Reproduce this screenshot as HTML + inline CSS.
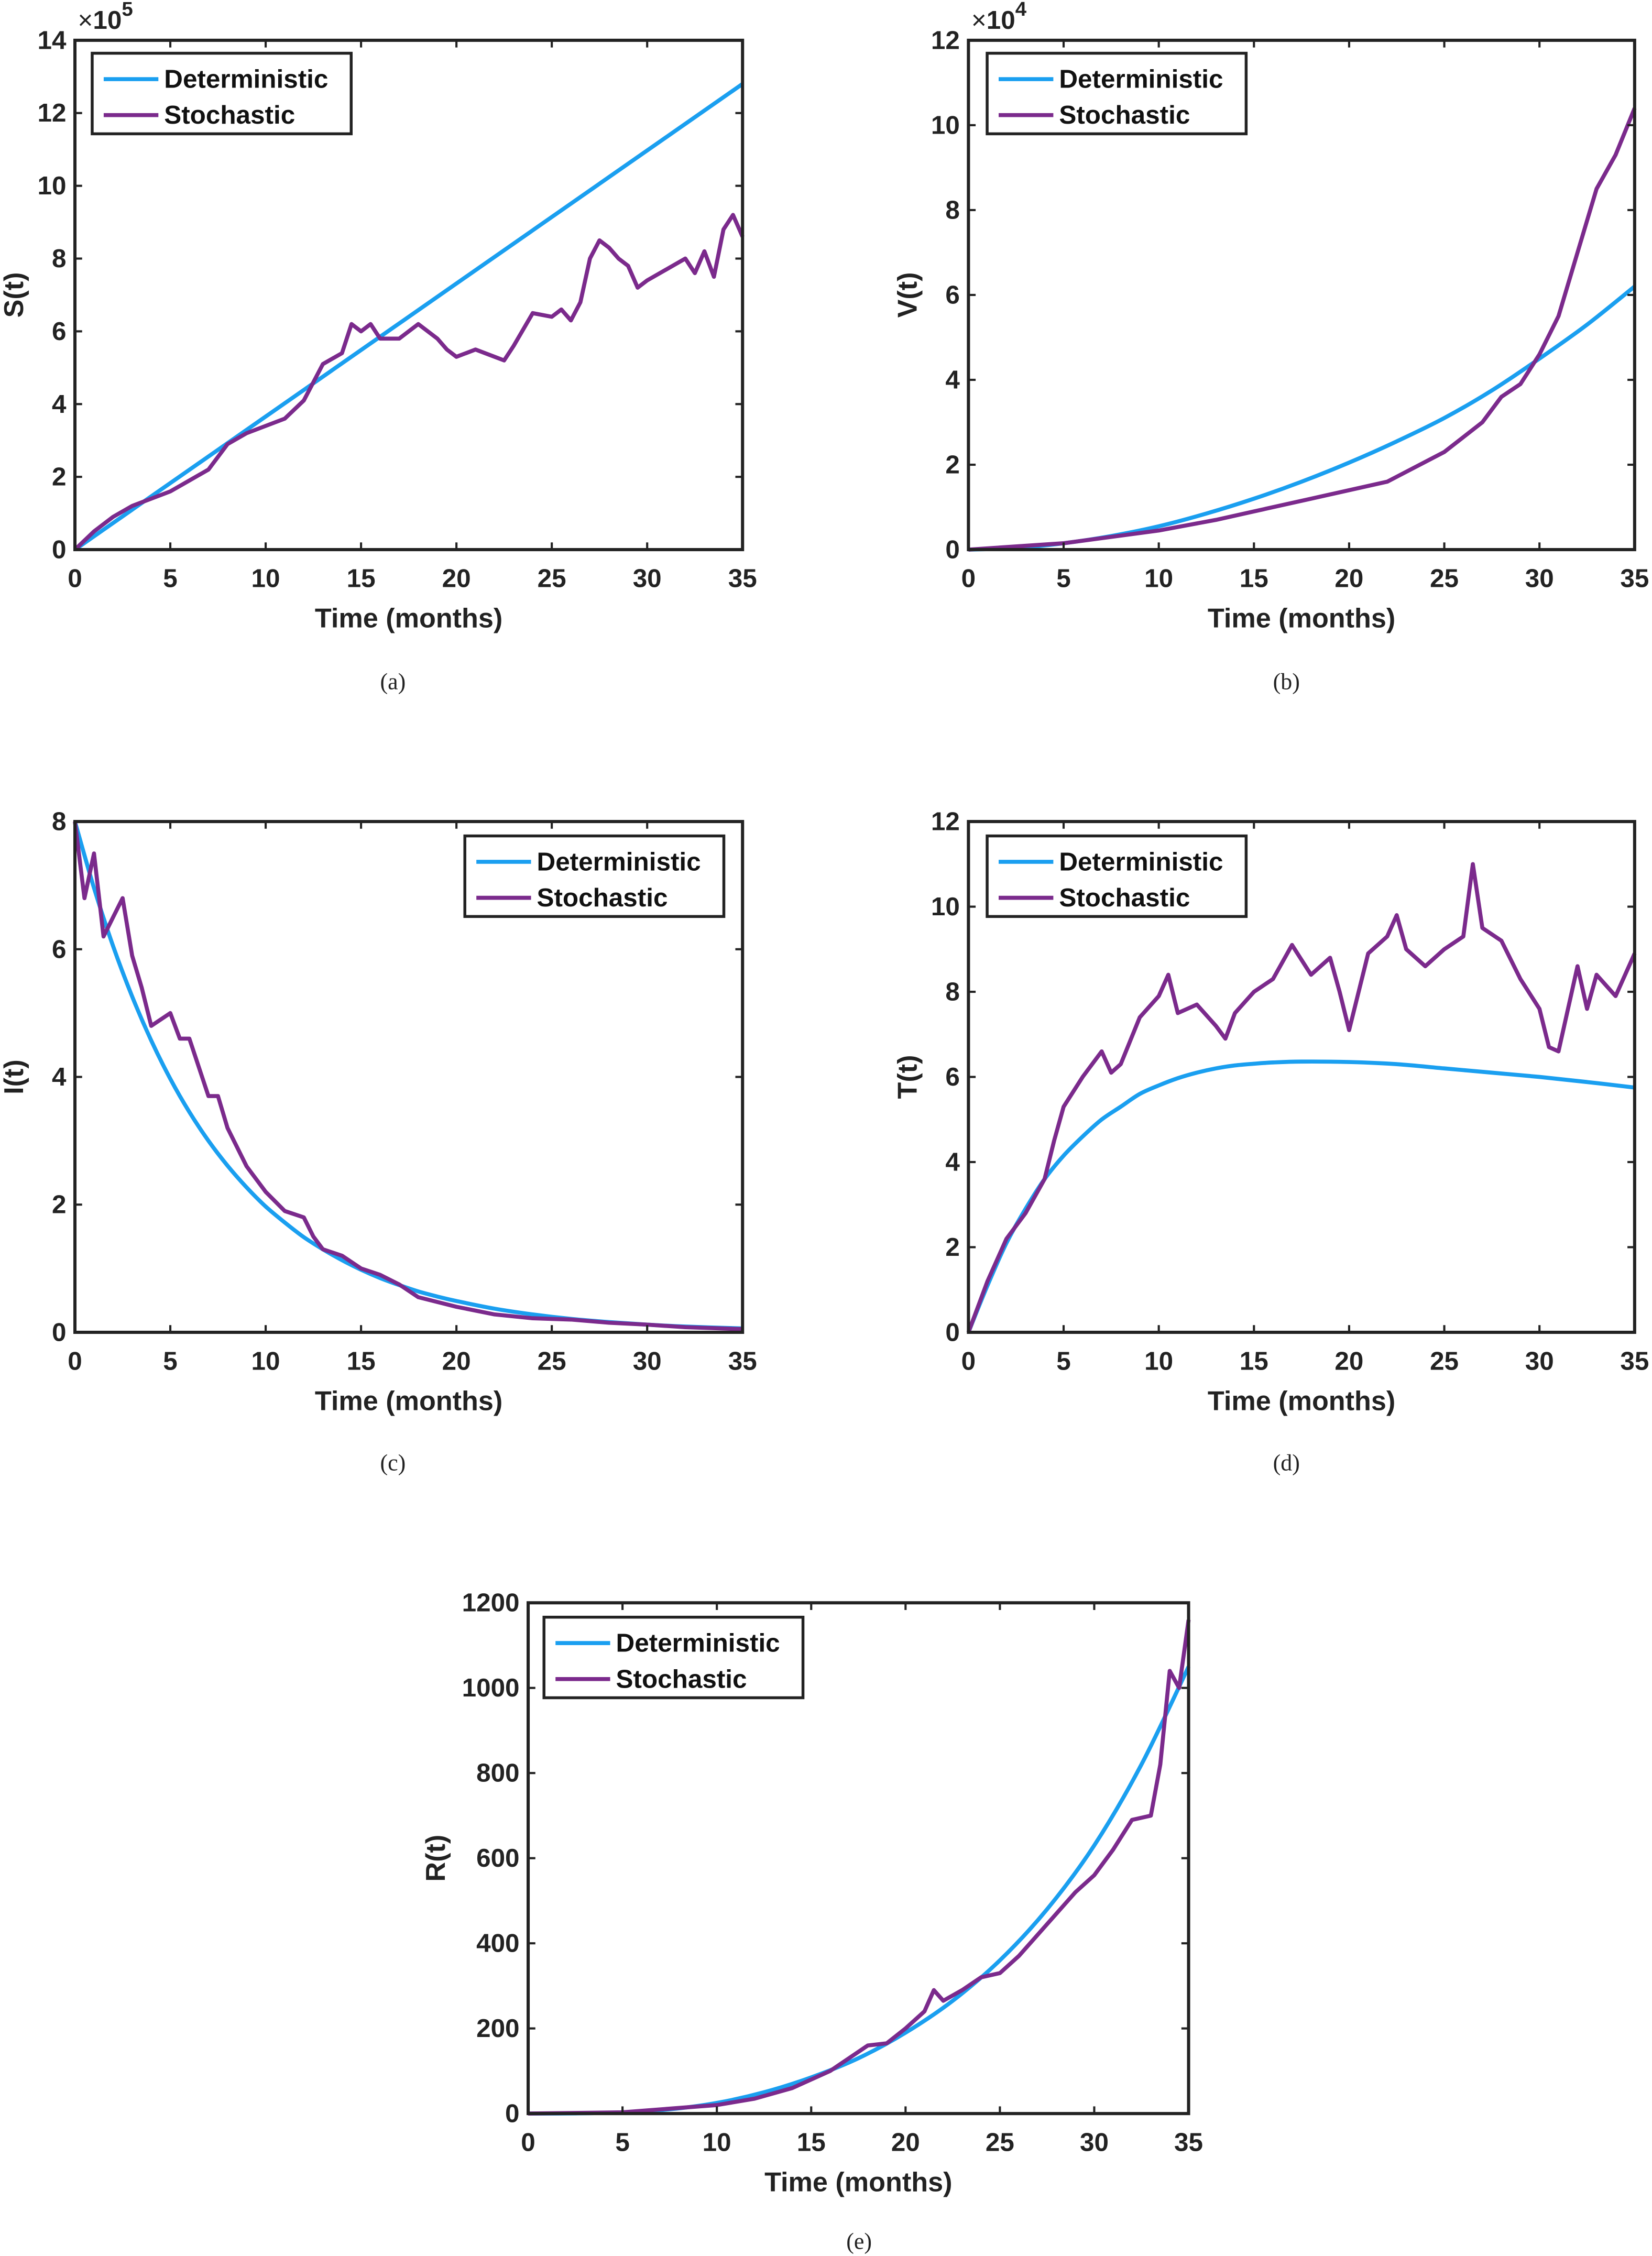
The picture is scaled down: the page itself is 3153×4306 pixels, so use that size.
<!DOCTYPE html>
<html><head><meta charset="utf-8"><style>
html,body{margin:0;padding:0;background:#fff}
svg{display:block}
text{font-family:"Liberation Sans",Arial,sans-serif}
text.cap{font-family:"Liberation Serif","Times New Roman",serif}
</style></head><body>
<svg id="fig" width="3153" height="4306" viewBox="0 0 1148 1568" xmlns="http://www.w3.org/2000/svg"></svg>
<script>
// ---- data ----
const sDetT=[0,35]; const sDetV=[0,12.8];
const sStoT=[0,1,2,3,4,5,6,7,8,9,10,11,12,13,14,14.5,15,15.5,16,17,18,19,19.5,20,21,22,22.5,23,24,25,25.5,26,26.5,27,27.5,28,28.5,29,29.5,30,31,32,32.5,33,33.5,34,34.5,35];
const sStoV=[0,.5,.9,1.2,1.4,1.6,1.9,2.2,2.9,3.2,3.4,3.6,4.1,5.1,5.4,6.2,6.0,6.2,5.8,5.8,6.2,5.8,5.5,5.3,5.5,5.3,5.2,5.6,6.5,6.4,6.6,6.3,6.8,8.0,8.5,8.3,8.0,7.8,7.2,7.4,7.7,8.0,7.6,8.2,7.5,8.8,9.2,8.6];
const vDetT=[0,2.5,5,7.5,10,12.5,15,17.5,20,22.5,25,27.5,30,32.5,35];
const vDetV=[0,.04,.15,.32,.55,.85,1.2,1.6,2.05,2.55,3.1,3.75,4.5,5.3,6.2];
const vStoT=[0,5,10,13,15,18,20,22,25,27,28,29,30,31,32,33,34,35];
const vStoV=[0,.15,.45,.7,.9,1.2,1.4,1.6,2.3,3.0,3.6,3.9,4.6,5.5,7.0,8.5,9.3,10.4];
const iDetT=[0,1,2,3,4,5,6,7,8,9,10,11,12,13,14,15,16,17,18,19,20,22,24,26,28,30,32,35];
const iDetV=[8,6.96,6.05,5.26,4.57,3.97,3.45,3.0,2.61,2.27,1.97,1.72,1.49,1.3,1.13,.98,.85,.74,.64,.56,.49,.37,.28,.21,.16,.12,.09,.06];
const iStoT=[0,.5,1,1.5,2,2.5,3,3.5,4,5,5.5,6,7,7.5,8,9,10,11,12,12.5,13,14,15,16,17,18,20,22,24,26,28,30,32,35];
const iStoV=[8,6.8,7.5,6.2,6.5,6.8,5.9,5.4,4.8,5.0,4.6,4.6,3.7,3.7,3.2,2.6,2.2,1.9,1.8,1.5,1.3,1.2,1.0,.9,.75,.55,.4,.28,.22,.2,.15,.12,.08,.05];
const tDetT=[0,1,2,3,4,5,6,7,8,9,10,11,12,13,14,15,16,17.5,20,22.5,25,27.5,30,32.5,35];
const tDetV=[0,1.1,2.1,2.9,3.6,4.15,4.6,5.0,5.3,5.6,5.8,5.97,6.1,6.2,6.27,6.31,6.34,6.36,6.35,6.3,6.2,6.1,6.0,5.88,5.75];
const tStoT=[0,1,2,3,4,4.5,5,6,7,7.5,8,9,10,10.5,11,12,13,13.5,14,15,16,17,18,19,19.5,20,21,22,22.5,23,24,25,26,26.5,27,28,29,30,30.5,31,32,32.5,33,34,35];
const tStoV=[0,1.2,2.2,2.8,3.6,4.5,5.3,6.0,6.6,6.1,6.3,7.4,7.9,8.4,7.5,7.7,7.2,6.9,7.5,8.0,8.3,9.1,8.4,8.8,8.0,7.1,8.9,9.3,9.8,9.0,8.6,9.0,9.3,11.0,9.5,9.2,8.3,7.6,6.7,6.6,8.6,7.6,8.4,7.9,8.9];
const rDetT=[0,2.5,5,7.5,10,12.5,15,17.5,20,22.5,25,27.5,30,32.5,35];
const rDetV=[0,.5,3,10,25,50,85,130,190,265,360,480,630,820,1050];
const rStoT=[0,5,10,12,14,16,17,18,19,20,21,21.5,22,23,24,25,26,27,28,29,30,31,32,33,33.5,34,34.5,35];
const rStoV=[0,3,20,35,60,100,130,160,165,200,240,290,265,290,320,330,370,420,470,520,560,620,690,700,820,1040,1000,1160];
const xTicks=[0,5,10,15,20,25,30,35];

const NS="http://www.w3.org/2000/svg";
const fig=document.getElementById('fig');
function el(tag,attrs,parent,txt){const e=document.createElementNS(NS,tag);for(const k in attrs)e.setAttribute(k,attrs[k]);if(txt!==undefined)e.textContent=txt;(parent||fig).appendChild(e);return e;}

function panel(o){
  const g=el('g',{});
  
  
  const X=t=>o.L+(t/35)*(o.R-o.L);
  const Y=v=>o.B-(v/o.ymax)*(o.B-o.T);
  function line(ts,vs,col,name,smooth){
    let d='';
    if(smooth&&ts.length>2){
      const P=ts.map((t,i)=>[X(t),Y(vs[i])]);
      d='M'+P[0][0]+','+P[0][1];
      for(let i=0;i<P.length-1;i++){
        const p0=P[Math.max(0,i-1)],p1=P[i],p2=P[i+1],p3=P[Math.min(P.length-1,i+2)];
        const c1=[p1[0]+(p2[0]-p0[0])/6,p1[1]+(p2[1]-p0[1])/6];
        const c2=[p2[0]-(p3[0]-p1[0])/6,p2[1]-(p3[1]-p1[1])/6];
        d+=' C'+c1.join(',')+' '+c2.join(',')+' '+p2.join(',');
      }
    } else d=ts.map((t,i)=>(i?'L':'M')+X(t).toFixed(2)+','+Y(vs[i]).toFixed(2)).join(' ');
    const p=el('path',{d:d,fill:'none',stroke:col,'stroke-width':2.8,'stroke-linejoin':'round'},g);
    
    
  }
  line(o.dt,o.dv,'#1a9ff0',o.id+'-deterministic-line',true);
  line(o.st,o.sv,'#7b2a8c',o.id+'-stochastic-line',false);
  const box=el('rect',{x:o.L,y:o.T,width:o.R-o.L,height:o.B-o.T,fill:'none',stroke:'#222','stroke-width':2.2},g);
  
  
  xTicks.forEach(t=>{
    const x=X(t);
    el('line',{x1:x,x2:x,y1:o.B,y2:o.B-5,stroke:'#222','stroke-width':1.5},g);
    el('line',{x1:x,x2:x,y1:o.T,y2:o.T+5,stroke:'#222','stroke-width':1.5},g);
    const tx=el('text',{x:x,y:o.B+26,'text-anchor':'middle','font-size':18,'font-weight':'bold',fill:'#222'},g,String(t));
    
    
  });
  o.yt.forEach(v=>{
    const y=Y(v);
    el('line',{x1:o.L,x2:o.L+5,y1:y,y2:y,stroke:'#222','stroke-width':1.5},g);
    el('line',{x1:o.R,x2:o.R-5,y1:y,y2:y,stroke:'#222','stroke-width':1.5},g);
    const ty=el('text',{x:o.L-6,y:y+6,'text-anchor':'end','font-size':18,'font-weight':'bold',fill:'#222'},g,String(v));
    
    
  });
  const xl=el('text',{x:(o.L+o.R)/2,y:o.B+54,'text-anchor':'middle','font-size':19,'font-weight':'bold',fill:'#222'},g,'Time (months)');
  
  
  const yx=o.L-(o.ymax>=1000?58:36), yy=(o.T+o.B)/2;
  const yl=el('text',{x:yx,y:yy,'text-anchor':'middle','font-size':19,'font-weight':'bold',fill:'#222',transform:'rotate(-90 '+yx+' '+yy+')'},g,o.ylab);
  
  
  if(o.exp){
    const ex=el('text',{x:o.L+2,y:o.T-8,'font-size':18,fill:'#222'},g);
    
    
    el('tspan',{},ex,'×');
    el('tspan',{'font-weight':'bold'},ex,'10');
    el('tspan',{dy:-9,'font-size':14,'font-weight':'bold'},ex,o.exp);
  }
  const lg=el('g',{},g);
  
  
  el('rect',{x:o.lx,y:o.ly,width:180,height:56,fill:'#fff',stroke:'#222','stroke-width':2},lg);
  el('line',{x1:o.lx+8,x2:o.lx+46,y1:o.ly+18,y2:o.ly+18,stroke:'#1a9ff0','stroke-width':2.8},lg);
  el('line',{x1:o.lx+8,x2:o.lx+46,y1:o.ly+43,y2:o.ly+43,stroke:'#7b2a8c','stroke-width':2.8},lg);
  const l1=el('text',{x:o.lx+50,y:o.ly+24,'font-size':18,'font-weight':'bold',fill:'#111'},lg,'Deterministic');
  
  
  const l2=el('text',{x:o.lx+50,y:o.ly+49,'font-size':18,'font-weight':'bold',fill:'#111'},lg,'Stochastic');
  
  
  const cp=el('text',{x:o.cx,y:o.cy,'text-anchor':'middle','font-size':16,fill:'#222','class':'cap'},g,o.cap);
  
  
}
panel({id:'s',L:52,R:516,T:28,B:382,ymax:14,yt:[0,2,4,6,8,10,12,14],dt:sDetT,dv:sDetV,st:sStoT,sv:sStoV,ylab:'S(t)',exp:'5',lx:64,ly:37,cx:273,cy:479,cap:'(a)'});
panel({id:'v',L:673,R:1136,T:28,B:382,ymax:12,yt:[0,2,4,6,8,10,12],dt:vDetT,dv:vDetV,st:vStoT,sv:vStoV,ylab:'V(t)',exp:'4',lx:686,ly:37,cx:894,cy:479,cap:'(b)'});
panel({id:'i',L:52,R:516,T:571,B:926,ymax:8,yt:[0,2,4,6,8],dt:iDetT,dv:iDetV,st:iStoT,sv:iStoV,ylab:'I(t)',lx:323,ly:581,cx:273,cy:1022,cap:'(c)'});
panel({id:'t',L:673,R:1136,T:571,B:926,ymax:12,yt:[0,2,4,6,8,10,12],dt:tDetT,dv:tDetV,st:tStoT,sv:tStoV,ylab:'T(t)',lx:686,ly:581,cx:894,cy:1022,cap:'(d)'});
panel({id:'r',L:367,R:826,T:1114,B:1469,ymax:1200,yt:[0,200,400,600,800,1000,1200],dt:rDetT,dv:rDetV,st:rStoT,sv:rStoV,ylab:'R(t)',lx:378,ly:1124,cx:597,cy:1563,cap:'(e)'});
</script>
</body></html>
